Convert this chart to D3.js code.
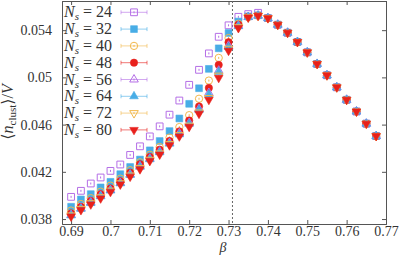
<!DOCTYPE html>
<html>
<head>
<meta charset="utf-8">
<script src="https://cdn.jsdelivr.net/npm/d3@7"></script>
<style>
  body { margin: 0; background: #fff; }
  text { font-family: "Liberation Serif", "DejaVu Serif", serif; fill: #333; }
</style>
</head>
<body>
<svg id="chart" width="399" height="255"></svg>
<script>
// beta grid of the simulations
const beta = [0.69, 0.6925, 0.695, 0.6975, 0.70, 0.7025, 0.705, 0.7075, 0.71, 0.7125,
              0.715, 0.7175, 0.72, 0.7225, 0.725, 0.7275, 0.73, 0.7325, 0.735, 0.7375,
              0.74, 0.7425, 0.745, 0.7475, 0.75, 0.7525, 0.755, 0.7575, 0.76, 0.7625,
              0.765, 0.7675];

// above the peak all lattice sizes fall on top of each other
const tail = [0.05502, 0.05446, 0.05378, 0.05300, 0.05212, 0.05114, 0.05018, 0.04916,
              0.04810, 0.04711, 0.04608, 0.04503];

const ns24 = [0.03988, 0.04039, 0.04101, 0.04152, 0.04208, 0.04262, 0.04343, 0.04416, 0.04500, 0.04585,
              0.04684, 0.04804, 0.04937, 0.05064, 0.05203, 0.05344, 0.05441, 0.05513, 0.05536, 0.05547].concat(tail);
const ns32 = [0.03904, 0.03966, 0.04011, 0.04068, 0.04115, 0.04180, 0.04241, 0.04304, 0.04382, 0.04461,
              0.04545, 0.04652, 0.04776, 0.04908, 0.05072, 0.05246, 0.05376, 0.05473, 0.05517, 0.05526].concat(tail);
const ns40 = [0.03872, 0.03927, 0.03977, 0.04032, 0.04083, 0.04142, 0.04214, 0.04281, 0.04344, 0.04410,
              0.04490, 0.04579, 0.04680, 0.04819, 0.04973, 0.05165, 0.05333, 0.05454, 0.05513, 0.05524].concat(tail);
const ns48 = [0.03848, 0.03904, 0.03954, 0.04011, 0.04059, 0.04121, 0.04192, 0.04264, 0.04326, 0.04388,
              0.04461, 0.04543, 0.04635, 0.04754, 0.04911, 0.05106, 0.05298, 0.05446, 0.05513, 0.05524].concat(tail);
const ns56 = [0.03834, 0.03890, 0.03940, 0.03996, 0.04045, 0.04106, 0.04177, 0.04247, 0.04311, 0.04371,
              0.04444, 0.04526, 0.04614, 0.04733, 0.04868, 0.05057, 0.05268, 0.05437, 0.05511, 0.05523].concat(tail);
const ns64 = [0.03830, 0.03886, 0.03935, 0.03992, 0.04041, 0.04102, 0.04173, 0.04242, 0.04306, 0.04365,
              0.04438, 0.04517, 0.04606, 0.04724, 0.04855, 0.05045, 0.05256, 0.05433, 0.05511, 0.05522].concat(tail);
const ns72 = [0.03831, 0.03886, 0.03934, 0.03985, 0.04041, 0.04103, 0.04169, 0.04232, 0.04302, 0.04356,
              0.04435, 0.04511, 0.04591, 0.04703, 0.04825, 0.05015, 0.05243, 0.05425, 0.05509, 0.05522].concat(tail);
const ns80 = [0.03821, 0.03876, 0.03924, 0.03975, 0.04030, 0.04093, 0.04159, 0.04222, 0.04292, 0.04346,
              0.04425, 0.04500, 0.04581, 0.04692, 0.04810, 0.04996, 0.05226, 0.05418, 0.05507, 0.05522].concat(tail);

const xTicks = [0.69, 0.70, 0.71, 0.72, 0.73, 0.74, 0.75, 0.76, 0.77];
const yTicks = [0.038, 0.042, 0.046, 0.050, 0.054];
const betaCrit = 0.731;

// series: lattice size, values, marker and colour
const series = [
    {ns: 24, values: ns24, shape: 'square',   open: true,  color: '#b46ee6'},
    {ns: 32, values: ns32, shape: 'square',   open: false, color: '#48ade6'},
    {ns: 40, values: ns40, shape: 'circle',   open: true,  color: '#f2b84b'},
    {ns: 48, values: ns48, shape: 'circle',   open: false, color: '#e8201c'},
    {ns: 56, values: ns56, shape: 'triangle', open: true,  color: '#b46ee6'},
    {ns: 64, values: ns64, shape: 'triangle', open: false, color: '#48ade6'},
    {ns: 72, values: ns72, shape: 'down',     open: true,  color: '#f2b84b'},
    {ns: 80, values: ns80, shape: 'down',     open: false, color: '#e8201c'}
];

const svg = d3.select('#chart');
const margin = {top: 1, right: 13, bottom: 31, left: 62};
const width = 399 - margin.left - margin.right;
const height = 255 - margin.top - margin.bottom;

const x = d3.scaleLinear().domain([0.68769, 0.77]).range([0, width]);
const y = d3.scaleLinear().domain([0.03758, 0.05647]).range([height, 0]);

const g = svg.append('g')
    .attr('transform', 'translate(' + margin.left + ',' + margin.top + ')');

// axes, ticks pointing inwards on all four sides
const fmt = d => String(+d.toFixed(3));
g.append('g')
    .attr('class', 'x axis')
    .attr('transform', 'translate(0,' + height + ')')
    .call(d3.axisBottom(x).tickValues(xTicks).tickSize(-4).tickPadding(2).tickFormat(fmt));
g.append('g')
    .attr('class', 'x axis top')
    .call(d3.axisTop(x).tickValues(xTicks).tickSize(-4).tickFormat(''));
g.append('g')
    .attr('class', 'y axis')
    .call(d3.axisLeft(y).tickValues(yTicks).tickSize(-4).tickPadding(10).tickFormat(fmt));
g.append('g')
    .attr('class', 'y axis right')
    .attr('transform', 'translate(' + width + ',0)')
    .call(d3.axisRight(y).tickValues(yTicks).tickSize(-4).tickFormat(''));

g.selectAll('.axis path').attr('stroke', '#555').attr('stroke-width', 1);
g.selectAll('.axis line').attr('stroke', '#555');
g.selectAll('.axis text')
    .style('font-family', '"Liberation Serif", serif')
    .style('font-size', '14px')
    .attr('fill', '#333');

// critical coupling
g.append('line')
    .attr('x1', x(betaCrit)).attr('x2', x(betaCrit))
    .attr('y1', 0).attr('y2', height)
    .attr('stroke', '#666')
    .attr('stroke-width', 1)
    .attr('stroke-dasharray', '2,2');

// markers
function symbolPath(shape) {
    if (shape === 'square') return d3.symbol(d3.symbolSquare, 46)();
    if (shape === 'circle') return d3.symbol(d3.symbolCircle, 42)();
    return d3.symbol(d3.symbolTriangle, 32)();
}

function drawMarker(sel, s) {
    sel.append('path')
        .attr('d', symbolPath(s.shape))
        .attr('transform', s.shape === 'down' ? 'rotate(180)' : null)
        .attr('fill', s.open ? 'none' : s.color)
        .attr('stroke', s.color)
        .attr('stroke-width', s.open ? 1 : 0.6);
    // tiny error bar
    sel.append('line')
        .attr('x1', 0).attr('x2', 0).attr('y1', -1).attr('y2', 1)
        .attr('stroke', s.color)
        .attr('stroke-width', 1);
}

for (let s of series) {
    let pts = g.append('g').attr('class', 'series ns' + s.ns)
        .selectAll('g')
        .data(beta.map((b, i) => ({b: b, v: s.values[i]})))
        .enter().append('g')
            .attr('transform', d => 'translate(' + x(d.b) + ',' + y(d.v) + ')');
    pts.each(function() { drawMarker(d3.select(this), s); });
}

// legend
const legend = g.append('g').attr('transform', 'translate(2,0)');
series.forEach(function(s, i) {
    let row = legend.append('g').attr('transform', 'translate(0,' + (11.3 + i * 16.8) + ')');
    let t = row.append('text')
        .attr('x', 0).attr('y', 5)
        .style('font-size', '16px');
    t.append('tspan').style('font-style', 'italic').text('N');
    t.append('tspan').style('font-style', 'italic').style('font-size', '11px').attr('dy', 3).text('s');
    t.append('tspan').attr('dy', -3).text(' = ' + s.ns);
    row.append('line')
        .attr('x1', 57).attr('x2', 83)
        .attr('stroke', s.color).attr('stroke-opacity', 0.6).attr('stroke-width', 1);
    for (let xe of [57, 83]) {
        row.append('line')
            .attr('x1', xe).attr('x2', xe).attr('y1', -2).attr('y2', 2)
            .attr('stroke', s.color).attr('stroke-opacity', 0.6);
    }
    let m = row.append('g').attr('transform', 'translate(70,0)');
    drawMarker(m, s);
});

// axis titles
let yl = svg.append('text')
    .attr('transform', 'translate(13,112) rotate(-90)')
    .attr('text-anchor', 'middle')
    .style('font-size', '16px');
yl.append('tspan').text('\u27E8');
yl.append('tspan').style('font-style', 'italic').text('n');
yl.append('tspan').style('font-size', '11px').attr('dy', 3).text('clust');
yl.append('tspan').attr('dy', -3).text('\u27E9/');
yl.append('tspan').style('font-style', 'italic').text('V');

svg.append('text')
    .attr('x', 223).attr('y', 251.5)
    .attr('text-anchor', 'middle')
    .style('font-size', '14px')
    .style('font-style', 'italic')
    .text('\u03B2');
</script>
</body>
</html>
